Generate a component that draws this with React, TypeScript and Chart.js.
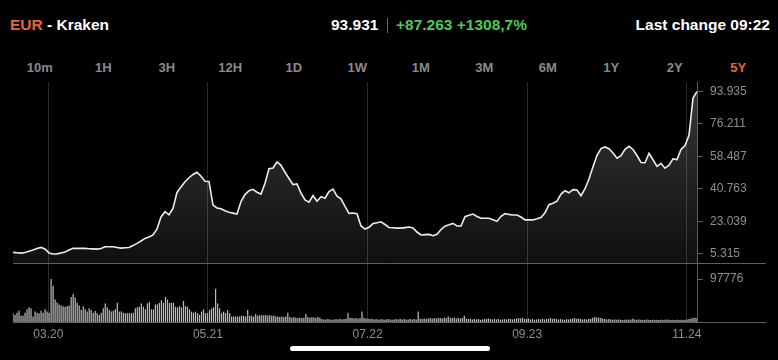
import React, { useEffect, useRef } from "react";
import { Chart, registerables } from "chart.js";

Chart.register(...registerables);

// ---- data ----
const PAIR = "EUR";
const EXCHANGE = "Kraken";
const LAST_PRICE = "93.931";
const CHANGE_TEXT = "+87.263 +1308,7%";
const LAST_CHANGE = "Last change 09:22";
const TABS = ["10m", "1H", "3H", "12H", "1D", "1W", "1M", "3M", "6M", "1Y", "2Y", "5Y"];
const ACTIVE_TAB = "5Y";

// x axis in months (0 = Dec 2019)
const X_MIN = -0.1;
const X_MAX = 59.9;
const TICK_MONTHS = [3, 17, 31, 45, 59];
const TICK_LABELS = ["03.20", "05.21", "07.22", "09.23", "11.24"];

const PRICE_TICKS = [5.315, 23.039, 40.763, 58.487, 76.211, 93.935];
const PRICE_MIN = 0.407;
const PRICE_MAX = 99.1;
const VOLUME_TICKS = [97776];
const VOLUME_MAX = 134200;

const PRICE_EUR = [
  6.2, 6.0, 5.8, 6.1, 6.8, 7.5, 8.3, 8.9, 8.1, 5.9,
  5.315, 5.4, 5.9, 6.4, 7.5, 8.4, 8.4, 8.4, 8.4, 8.2,
  8.1, 8.0, 8.3, 9.3, 9.3, 9.3, 8.9, 8.5, 8.7, 8.9,
  9.9, 11.1, 12.4, 13.8, 14.6, 15.7, 19.0, 25.5, 28.4, 26.7,
  30.1, 38.9, 41.9, 44.7, 46.9, 48.7, 49.9, 47.7, 45.0, 44.9,
  32.0, 30.4, 30.0, 28.9, 28.1, 27.6, 27.1, 33.9, 37.7, 39.8,
  40.6, 39.0, 38.0, 43.9, 51.8, 52.2, 55.5, 53.7, 49.9, 46.5,
  43.2, 43.5, 38.5, 34.8, 33.6, 37.2, 34.1, 36.6, 35.7, 39.4,
  40.7, 36.8, 35.4, 31.3, 27.5, 27.7, 27.3, 20.6, 18.9, 19.9,
  21.9, 22.4, 22.9, 21.4, 19.8, 19.6, 19.4, 19.4, 19.7, 20.0,
  19.5, 17.3, 15.7, 15.9, 16.0, 15.3, 16.1, 18.7, 20.5, 21.2,
  22.0, 20.6, 20.6, 25.7, 26.4, 27.1, 25.8, 24.8, 24.8, 24.8,
  24.0, 23.1, 25.9, 27.3, 26.9, 26.6, 26.6, 25.5, 23.9, 23.9,
  23.9, 24.5, 25.2, 27.8, 32.2, 33.0, 34.1, 38.0, 39.8, 38.7,
  40.4, 40.2, 37.1, 40.9, 46.2, 52.9, 59.1, 62.8, 63.7, 62.7,
  60.4, 57.5, 58.9, 62.4, 64.0, 62.3, 59.0, 55.2, 55.1, 60.2,
  56.7, 53.1, 54.8, 52.1, 53.7, 57.2, 56.8, 62.3, 64.5, 70.0,
  90.4, 93.931,
];

const VOLUME = [
  20000, 16200, 21300, 25800, 14000, 14000, 21300, 28900, 33300, 31100,
  12400, 23600, 21300, 20000, 25800, 21300, 28900, 23600, 21300, 97776,
  82200, 51100, 44400, 40000, 37800, 35600, 34700, 35600, 37800, 56900,
  64400, 55600, 43600, 37800, 27300, 35600, 28900, 23600, 31100, 27300,
  21300, 25100, 20000, 16200, 21300, 31100, 42200, 33300, 27300, 23600,
  25800, 28900, 43600, 23600, 23600, 21300, 20000, 20000, 20000, 20000,
  21300, 31100, 33300, 34700, 42200, 34700, 28900, 42200, 45800, 28900,
  28900, 40000, 40000, 43600, 49600, 43600, 56900, 51100, 43600, 43600,
  43600, 34700, 33300, 36200, 33300, 48000, 36200, 34700, 28900, 23600,
  21300, 23600, 20000, 16200, 23600, 28900, 20000, 20000, 27300, 31100,
  33300, 75500, 42200, 31100, 20000, 23600, 20000, 27300, 20000, 12400,
  12400, 12400, 12400, 12400, 14000, 14000, 12400, 27300, 14000, 14000,
  12400, 18400, 14000, 15600, 15600, 15600, 16200, 14700, 15600, 14000,
  14700, 12400, 12400, 11100, 12400, 11100, 12400, 21300, 11100, 9600,
  11100, 9600, 8900, 10200, 8900, 9600, 18400, 11100, 9600, 11100,
  10200, 8900, 11100, 9600, 6700, 5800, 5800, 6700, 5800, 5100,
  5800, 6700, 5800, 7300, 5800, 6700, 7300, 21300, 8900, 9600,
  8000, 8900, 7300, 8900, 23600, 9600, 8000, 7300, 6700, 7300,
  5800, 6700, 5800, 5800, 6700, 5100, 5800, 6700, 5800, 5100,
  5800, 6700, 5800, 7300, 5800, 6700, 5800, 5100, 6700, 5800,
  6700, 5800, 23600, 7300, 6700, 8000, 7300, 8000, 8900, 7300,
  8900, 8000, 9600, 8900, 8000, 10200, 8900, 12400, 9600, 8900,
  10200, 8000, 9600, 8000, 8900, 14000, 7300, 6700, 8000, 5800,
  6700, 5800, 6700, 5100, 5800, 6700, 7300, 8000, 6700, 5800,
  7300, 5800, 6700, 5100, 5800, 6700, 5800, 6700, 7300, 5800,
  6700, 8000, 8900, 8000, 9600, 7300, 6700, 8000, 5800, 6700,
  5100, 5800, 6700, 5800, 7300, 5800, 6700, 7300, 8900, 7300,
  8000, 6700, 5800, 6700, 5800, 5100, 6700, 5800, 6700, 8000,
  8900, 7300, 8000, 6700, 5800, 6700, 5800, 6700, 7300, 9600,
  11100, 10200, 9600, 8900, 8000, 6700, 5800, 6700, 5800, 5100,
  5800, 5100, 5800, 5100, 4400, 5100, 5800, 5100, 5800, 7300,
  5800, 5100, 5800, 5100, 4400, 5100, 5800, 5100, 4400, 5100,
  4400, 5100, 4400, 5100, 4400, 5100, 5800, 5100, 4400, 5100,
  4400, 5100, 4400, 5100, 4400, 5100, 5800, 6700, 8000, 8900,
  9600, 8900,
];

// ---- styles ----
const FONT = "'Liberation Sans', Arial, Helvetica, sans-serif";
const ORANGE = "#e8653c";
const GREEN = "#4cc95a";
const AXIS_TEXT = "#8e8e8e";
const GRID = "rgba(255,255,255,0.17)";
const AXIS_LINE = "#5e5e5e";

const separatorPlugin = {
  id: "separators",
  afterDraw(chart: any) {
    const { ctx, chartArea, scales } = chart;
    ctx.save();
    ctx.strokeStyle = AXIS_LINE;
    ctx.lineWidth = 1;
    [scales.y.bottom, scales.vol.bottom].forEach((yy: number) => {
      const y = Math.round(yy) + 0.5;
      ctx.beginPath();
      ctx.moveTo(chartArea.left, y);
      ctx.lineTo(chart.width - 12, y);
      ctx.stroke();
    });
    ctx.restore();
  },
};

function PriceChart() {
  const ref = useRef<HTMLCanvasElement | null>(null);
  useEffect(() => {
    if (!ref.current) return;
    const span = X_MAX - X_MIN;
    const priceData = PRICE_EUR.map((v, i) => ({ x: X_MIN + (i * span) / (PRICE_EUR.length - 1), y: v }));
    const volData = VOLUME.map((v, j) => ({ x: X_MIN + (j * span) / (VOLUME.length - 1), y: v }));
    const tickFont = { family: FONT, size: 12 };

    const chart = new Chart(ref.current, {
      type: "bar",
      data: {
        datasets: [
          {
            type: "line",
            label: PAIR,
            data: priceData,
            yAxisID: "y",
            borderColor: "#ececec",
            borderWidth: 1.6,
            pointRadius: 0,
            tension: 0,
            fill: "start",
            backgroundColor: (ctx: any) => {
              const c = ctx.chart;
              const s = c.scales && c.scales.y;
              if (!c.chartArea || !s || !Number.isFinite(s.top) || !Number.isFinite(s.bottom) || s.bottom <= s.top) {
                return "rgba(255,255,255,0.12)";
              }
              const g = c.ctx.createLinearGradient(0, s.top, 0, s.bottom);
              g.addColorStop(0, "rgba(255,255,255,0.22)");
              g.addColorStop(1, "rgba(255,255,255,0.06)");
              return g;
            },
            order: 1,
          } as any,
          {
            type: "bar",
            label: "Volume",
            data: volData,
            yAxisID: "vol",
            backgroundColor: "#b8b8b8",
            barPercentage: 0.62,
            categoryPercentage: 1,
            order: 2,
          } as any,
        ],
      },
      options: {
        animation: false,
        responsive: false,
        maintainAspectRatio: false,
        layout: { padding: { left: 13, top: 2, right: 0, bottom: 0 } },
        plugins: { legend: { display: false }, tooltip: { enabled: false } },
        scales: {
          x: {
            type: "linear",
            offset: false,
            min: X_MIN,
            max: X_MAX,
            afterBuildTicks: (s: any) => {
              s.ticks = TICK_MONTHS.map((v) => ({ value: v }));
            },
            afterFit: (s: any) => {
              s.height = 28;
              s.paddingLeft = 0;
              s.paddingRight = 0;
            },
            ticks: {
              autoSkip: false,
              maxRotation: 0,
              padding: 5,
              color: AXIS_TEXT,
              font: tickFont,
              callback: (v: any) => TICK_LABELS[TICK_MONTHS.indexOf(v)] ?? "",
            },
            grid: { color: GRID, drawTicks: false, lineWidth: 1, offset: false },
            border: { display: false },
          },
          y: {
            type: "linear",
            position: "right",
            stack: "main",
            stackWeight: 181,
            min: PRICE_MIN,
            max: PRICE_MAX,
            afterBuildTicks: (s: any) => {
              s.ticks = PRICE_TICKS.map((v) => ({ value: v }));
            },
            afterFit: (s: any) => {
              s.width = 81;
              s.paddingTop = 0;
              s.paddingBottom = 0;
            },
            ticks: {
              padding: 7,
              color: AXIS_TEXT,
              font: tickFont,
              callback: (v: any) => Number(v).toFixed(3),
            },
            grid: { drawOnChartArea: false, drawTicks: true, tickLength: 6, color: AXIS_LINE },
            border: { display: true, color: AXIS_LINE },
          },
          vol: {
            type: "linear",
            position: "right",
            stack: "main",
            stackWeight: 59,
            min: 0,
            max: VOLUME_MAX,
            afterBuildTicks: (s: any) => {
              s.ticks = VOLUME_TICKS.map((v) => ({ value: v }));
            },
            afterFit: (s: any) => {
              s.width = 81;
              s.paddingTop = 0;
              s.paddingBottom = 0;
            },
            ticks: {
              padding: 7,
              color: AXIS_TEXT,
              font: tickFont,
              callback: (v: any) => String(v),
            },
            grid: { drawOnChartArea: false, drawTicks: true, tickLength: 6, color: AXIS_LINE },
            border: { display: true, color: AXIS_LINE },
          },
        },
      } as any,
      plugins: [separatorPlugin],
    });
    return () => chart.destroy();
  }, []);
  return (
    <canvas
      ref={ref}
      width={778}
      height={270}
      style={{ position: "absolute", left: 0, top: 80, width: 778, height: 270, display: "block" }}
    />
  );
}

export default function App() {
  const head: React.CSSProperties = {
    position: "absolute",
    top: 15,
    lineHeight: "20px",
    fontFamily: FONT,
    fontWeight: 700,
    fontSize: 15.5,
    whiteSpace: "nowrap",
  };
  return (
    <div style={{ position: "fixed", inset: 0, background: "#000", overflow: "hidden" }}>
      <div style={{ ...head, left: 10, color: "#fff" }}>
        <span style={{ color: ORANGE }}>{PAIR}</span> - {EXCHANGE}
      </div>
      <div style={{ ...head, left: 331, color: "#fff" }}>{LAST_PRICE}</div>
      <div style={{ position: "absolute", left: 386.5, top: 18, width: 1.5, height: 15, background: "#6a6a6a" }} />
      <div style={{ ...head, left: 396, color: GREEN }}>{CHANGE_TEXT}</div>
      <div style={{ ...head, right: 8, color: "#fff" }}>{LAST_CHANGE}</div>

      <div
        style={{
          position: "absolute",
          left: 8,
          width: 762,
          top: 60,
          display: "flex",
          lineHeight: "16px",
          fontFamily: FONT,
          fontWeight: 700,
          fontSize: 13,
        }}
      >
        {TABS.map((t) => (
          <div key={t} style={{ flex: 1, textAlign: "center", color: t === ACTIVE_TAB ? ORANGE : "#8a8a8a" }}>
            {t}
          </div>
        ))}
      </div>

      <PriceChart />

      <div
        style={{
          position: "absolute",
          left: 290,
          top: 346,
          width: 200,
          height: 5,
          borderRadius: 3,
          background: "#fff",
        }}
      />
    </div>
  );
}
